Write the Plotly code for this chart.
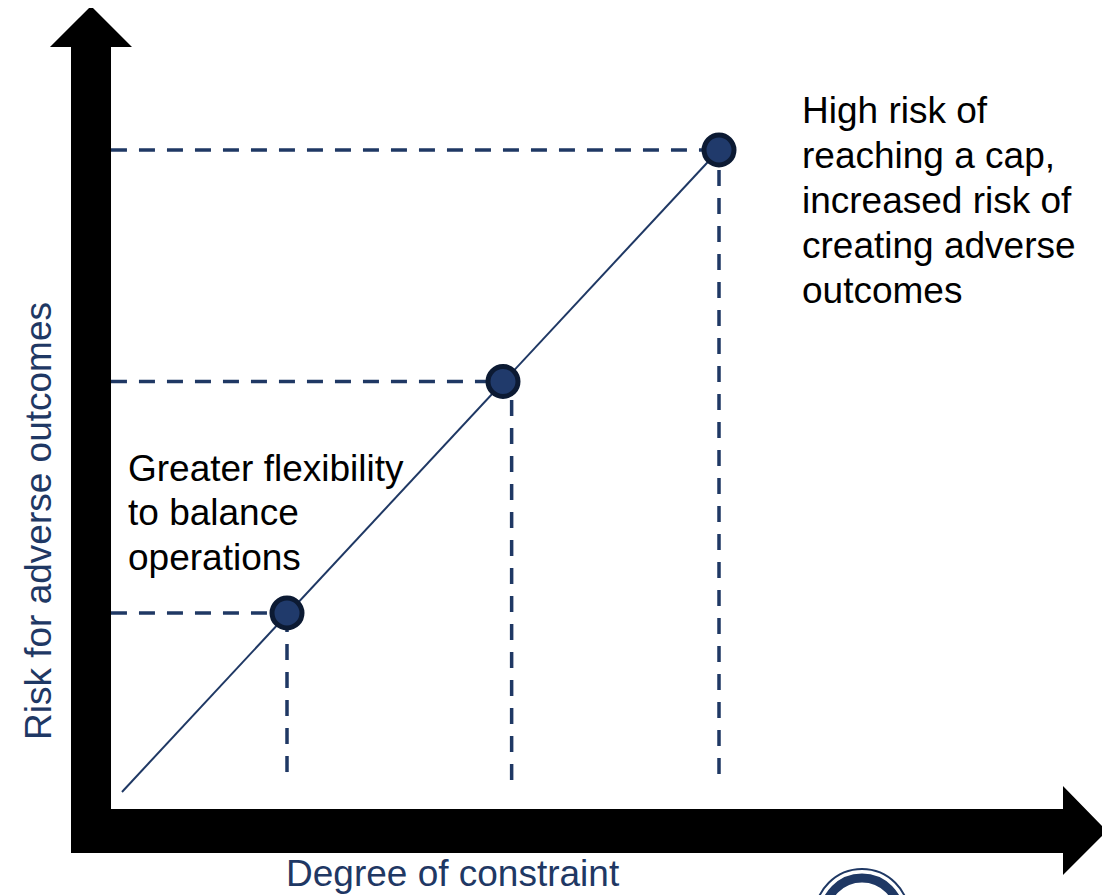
import plotly.graph_objects as go

# conceptual points: degree of constraint vs risk
constraint = [1, 2, 3]
risk = [1, 2, 3]

# diagonal trend line ends (same units)
trend_x = [0.236, 3]
trend_y = [0.227, 3]

# guide lines down to the x axis and across to the y axis
guide_x = [1.0, 2.04, 3.0]
guide_bottom = [0.313, 0.279, 0.305]
guide_left = 0.185

high_text = ["High risk of", "reaching a cap,", "increased risk of",
             "creating adverse", "outcomes"]
low_text = ["Greater flexibility", "to balance", "operations"]
x_title = "Degree of constraint"
y_title = "Risk for adverse outcomes"

# the page body adds an 8px margin, so the figure is drawn 8px smaller
PAD = 8
W, H = 1110 - PAD, 895 - PAD
NAVY = "#1f3864"
FONT = "Liberation Sans, Arial, sans-serif"
FS = 37

# pixel scale of the conceptual units (window pixels)
X0_PX, X_UNIT = 71, 216
Y3_PX, Y_UNIT = 150, 231.5
x_range = [-(X0_PX - PAD) / X_UNIT, (W - (X0_PX - PAD)) / X_UNIT]
y_max = 3 + (Y3_PX - PAD) / Y_UNIT
y_range = [y_max - H / Y_UNIT, y_max]


def px(x):
    return (x - PAD) / W


def py(y):
    return 1 - (y - PAD) / H


def poly(points):
    return "M" + " L".join(f"{px(x):.5f},{py(y):.5f}" for x, y in points) + " Z"


fig = go.Figure()

dash = dict(color=NAVY, width=3.5, dash="16px,12px")
for cx, cy in zip(constraint, risk):
    fig.add_trace(go.Scatter(x=[guide_left, cx], y=[cy, cy], mode="lines",
                             line=dash, hoverinfo="skip"))
for gx, gb, cy in zip(guide_x, guide_bottom, risk):
    fig.add_trace(go.Scatter(x=[gx, gx], y=[gb, cy], mode="lines",
                             line=dash, hoverinfo="skip"))

fig.add_trace(go.Scatter(x=trend_x, y=trend_y, mode="lines",
                         line=dict(color=NAVY, width=2), hoverinfo="skip"))
fig.add_trace(go.Scatter(x=constraint, y=risk, mode="markers",
                         marker=dict(size=30, color="#203a6b",
                                     line=dict(color="#0c1a33", width=5))))

# thick black arrow axes
v_arrow = [(71, 853), (71, 47), (50, 47), (91, 6), (132, 47), (111, 47), (111, 853)]
h_arrow = [(71, 809), (1063, 809), (1063, 786), (1107, 831), (1063, 875),
           (1063, 853), (71, 853)]
shapes = [dict(type="path", xref="paper", yref="paper", path=poly(p),
               fillcolor="black", line=dict(width=0)) for p in (v_arrow, h_arrow)]

# partial logo at the bottom edge
shapes.append(dict(type="circle", xref="paper", yref="paper",
                   x0=px(815), x1=px(909), y0=py(963), y1=py(869),
                   line=dict(color=NAVY, width=2), fillcolor="white"))
shapes.append(dict(type="circle", xref="paper", yref="paper",
                   x0=px(824), x1=px(900), y0=py(954), y1=py(878),
                   line=dict(color=NAVY, width=9), fillcolor="white"))

annotations = []
for i, t in enumerate(high_text):
    annotations.append(dict(x=px(800), y=py(110 + 45 * i), text=t))
for i, t in enumerate(low_text):
    annotations.append(dict(x=px(126), y=py(468 + 44.5 * i), text=t))
for a in annotations:
    a.update(xref="paper", yref="paper", xanchor="left", yanchor="middle",
             showarrow=False, font=dict(family=FONT, size=FS, color="black"))
annotations.append(dict(x=px(453), y=py(873), xref="paper", yref="paper",
                        text=x_title, showarrow=False, xanchor="center",
                        yanchor="middle",
                        font=dict(family=FONT, size=FS, color=NAVY)))
annotations.append(dict(x=px(38), y=py(521), xref="paper", yref="paper",
                        text=y_title, showarrow=False, textangle=-90,
                        xanchor="center", yanchor="middle",
                        font=dict(family=FONT, size=FS, color=NAVY)))

fig.update_layout(
    width=W, height=H,
    margin=dict(l=0, r=0, t=0, b=0),
    paper_bgcolor="white", plot_bgcolor="white",
    showlegend=False,
    xaxis=dict(range=x_range, visible=False, fixedrange=True),
    yaxis=dict(range=y_range, visible=False, fixedrange=True),
    shapes=shapes,
    annotations=annotations,
)

fig.write_html("out.html")
